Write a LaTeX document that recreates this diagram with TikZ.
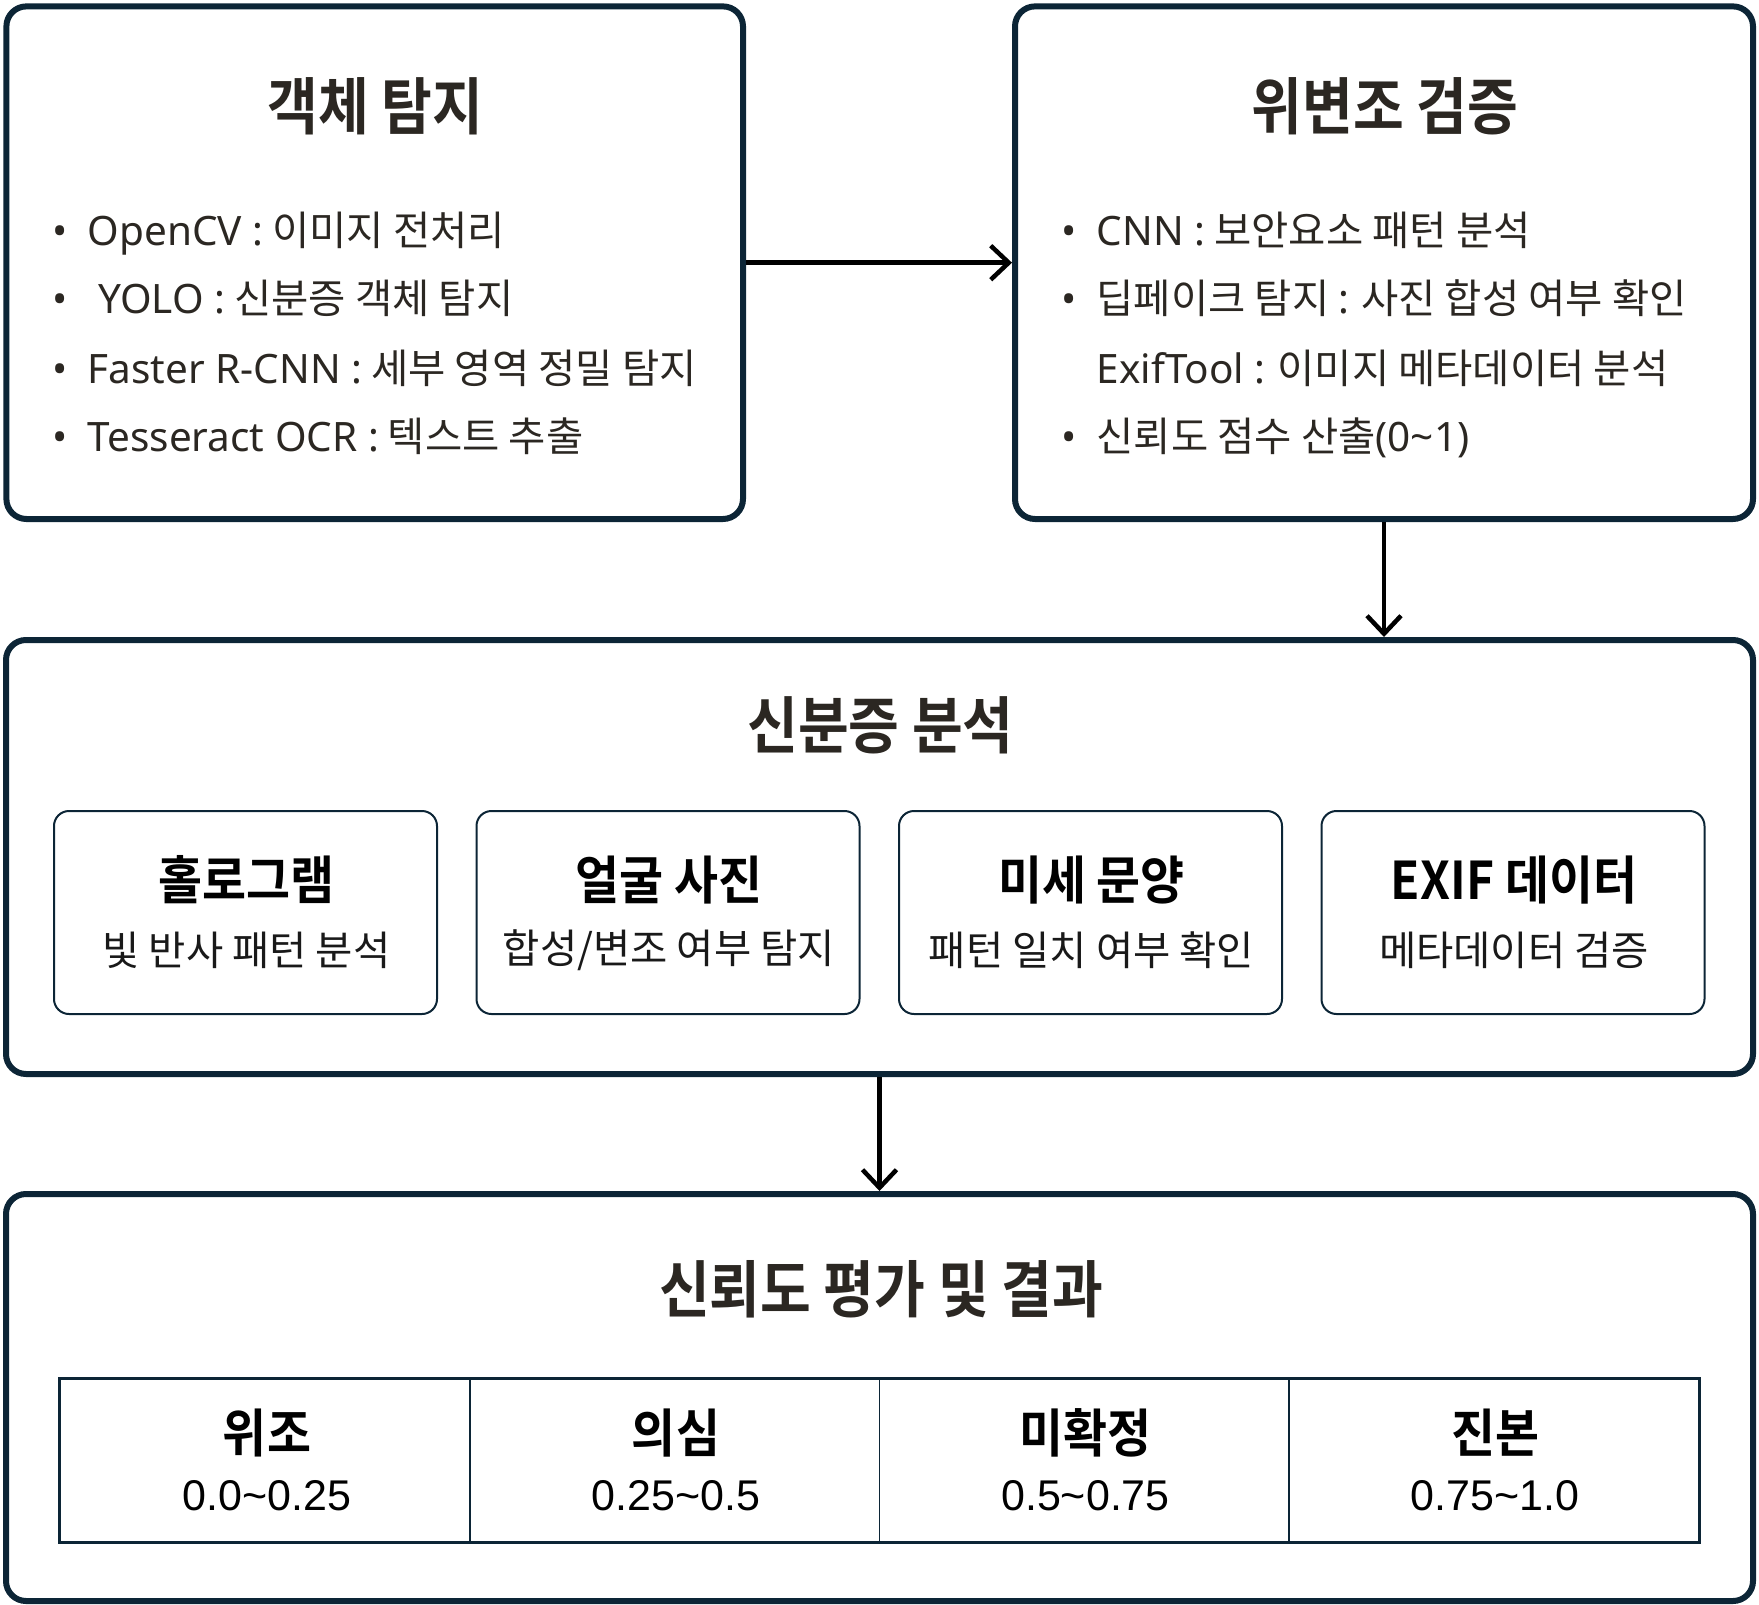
\documentclass[tikz,border=0pt]{standalone}
\usepackage{fontspec}
\setmainfont{Noto Sans CJK KR}
\newfontfamily\headfont{Noto Sans CJK KR Bold}[FakeStretch=0.89]
\newfontfamily\cardfont{Noto Sans CJK KR Bold}[FakeStretch=0.92]
\newfontfamily\latinfont{Noto Sans}
\newfontfamily\numfont{Liberation Sans}
\usetikzlibrary{arrows.meta}
\definecolor{edge}{HTML}{0C2536}
\definecolor{ink}{HTML}{2B2722}
\tikzstyle{stage}=[draw=edge, line width=6pt, rounded corners=20pt, inner sep=0pt]
\tikzstyle{card}=[draw=edge, line width=2pt, rounded corners=15pt, inner sep=0pt, minimum width=383pt, minimum height=203pt]
\tikzstyle{cell}=[draw=edge, line width=1.5pt, inner sep=0pt, minimum width=409.5pt, minimum height=162.5pt]
\tikzstyle{heading}=[font=\headfont\fontsize{62}{70}\selectfont, text=ink, inner sep=0pt]
\tikzstyle{item}=[font=\fontsize{40.5}{48}\selectfont, text=ink, anchor=base west, inner sep=0pt]
\tikzstyle{cardtitle}=[font=\cardfont\fontsize{52}{60}\selectfont, text=black, inner sep=0pt]
\tikzstyle{cardtext}=[font=\fontsize{40.5}{48}\selectfont, text=black!90, inner sep=0pt]
\tikzstyle{score}=[font=\numfont\fontsize{43}{50}\selectfont, text=black, anchor=base, inner sep=0pt]
\tikzstyle{flow}=[line width=4.5pt, -{Straight Barb[length=18pt,width=34pt]}]

\begin{document}
\begin{tikzpicture}[x=1pt, y=-1pt]
    \useasboundingbox (0,0) rectangle (1759,1605);
    % stages
    \node[stage, minimum width=736.6pt, minimum height=512.6pt] (det) at (374.7,262.7) {};
    \node[stage, minimum width=738pt, minimum height=512.6pt]   (ver) at (1384,262.7) {};
    \node[stage, minimum width=1747pt, minimum height=434pt]    (ana) at (879.5,857) {};
    \node[stage, minimum width=1747pt, minimum height=407pt]    (res) at (879.5,1397.5) {};

    \node[heading] (detT) at (375.5,106.5) {객체 탐지};
    \node[heading] (verT) at (1385,106.5) {위변조 검증};
    \node[heading] (anaT) at (880.5,725) {신분증 분석};
    \node[heading] (resT) at (881,1289.5) {신뢰도 평가 및 결과};

    % object detection items
    \node[item] (det1) at (52,246) {{\latinfont •\enspace OpenCV :} 이미지 전처리};
    \node[item] (det2) at (52,314) {{\latinfont •\enspace\ YOLO :} 신분증 객체 탐지};
    \node[item] (det3) at (52,383) {{\latinfont •\enspace Faster R-CNN :} 세부 영역 정밀 탐지};
    \node[item] (det4) at (52,451) {{\latinfont •\enspace Tesseract OCR :} 텍스트 추출};

    % forgery check items
    \node[item] (ver1) at (1061,246) {{\latinfont •\enspace CNN :} 보안요소 패턴 분석};
    \node[item] (ver2) at (1061,314) {{\latinfont •\enspace}딥페이크 탐지 {\latinfont :} 사진 합성 여부 확인};
    \node[item] (ver3) at (1061,383) {{\latinfont \phantom{•}\enspace ExifTool :} 이미지 메타데이터 분석};
    \node[item] (ver4) at (1061,451) {{\latinfont •\enspace}신뢰도 점수 산출{\latinfont (0\textasciitilde 1)}};

    % analysis cards
    \node[card] (C1) at (245.5,912.5) {};
    \node[card] (C2) at (668,912.5) {};
    \node[card] (C3) at (1090.5,912.5) {};
    \node[card] (C4) at (1513,912.5) {};
    \node[cardtitle] (C1t) at (246.5,880) {홀로그램};
    \node[cardtitle] (C2t) at (669,880) {얼굴 사진};
    \node[cardtitle] (C3t) at (1091.5,880) {미세 문양};
    \node[cardtitle] (C4t) at (1514,880) {EXIF 데이터};
    \node[cardtext]  (C1s) at (246.5,950) {빛 반사 패턴 분석};
    \node[cardtext]  (C2s) at (669,950) {합성/변조 여부 탐지};
    \node[cardtext]  (C3s) at (1091.5,950) {패턴 일치 여부 확인};
    \node[cardtext]  (C4s) at (1514,950) {메타데이터 검증};

    % result table
    \node[cell] (R1) at (265.25,1460.4) {};
    \node[cell] (R2) at (674.75,1460.4) {};
    \node[cell] (R3) at (1084.25,1460.4) {};
    \node[cell] (R4) at (1493.75,1460.4) {};
    \draw[edge, line width=3pt] (R1.north west) rectangle (R4.south east);
    \node[cardtitle] (R1t) at (267,1433) {위조};
    \node[cardtitle] (R2t) at (676,1433) {의심};
    \node[cardtitle] (R3t) at (1085.5,1433) {미확정};
    \node[cardtitle] (R4t) at (1495,1433) {진본};
    \node[score] (R1s) at (267,1510) {0.0\textasciitilde 0.25};
    \node[score] (R2s) at (676,1510) {0.25\textasciitilde 0.5};
    \node[score] (R3s) at (1085.5,1510) {0.5\textasciitilde 0.75};
    \node[score] (R4s) at (1495,1510) {0.75\textasciitilde 1.0};

    \draw[flow] (det.east) -- (ver.west);
    \draw[flow] (ver.south) -- (ver.south |- ana.north);
    \draw[flow] (ana.south) -- (res.north);
\end{tikzpicture}
\end{document}
